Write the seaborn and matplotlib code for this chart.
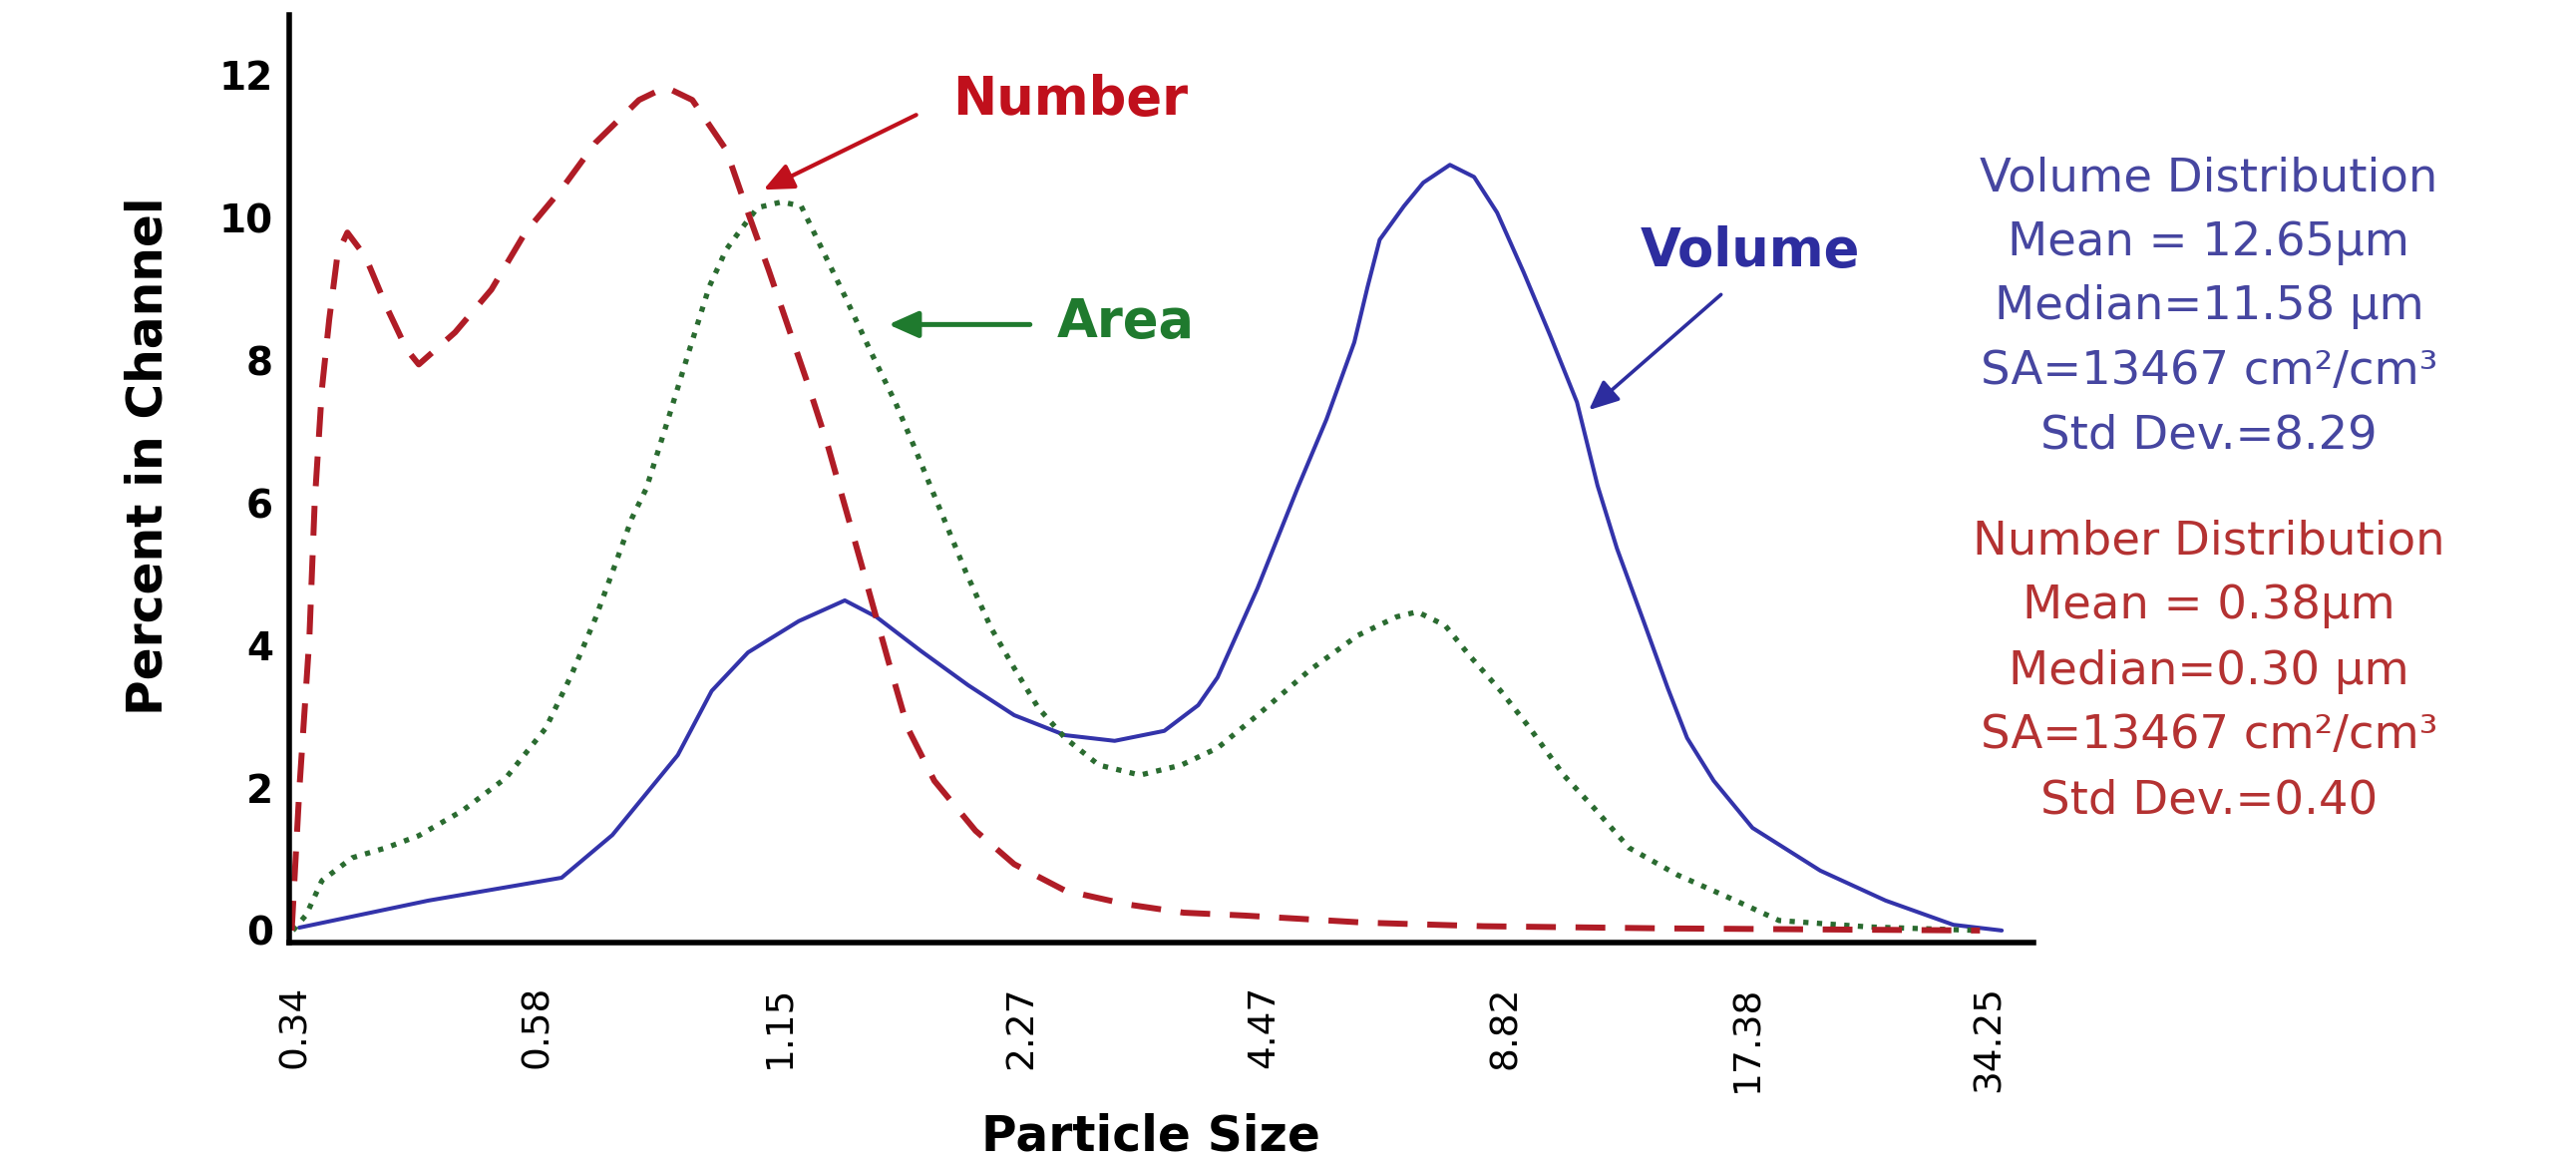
import pandas as pd
import matplotlib.pyplot as plt
import seaborn as sns

# channel index on x, the tick labels give the particle size of each channel
channel_labels = ["0.34", "0.58", "1.15", "2.27", "4.47", "8.82", "17.38", "34.25"]
percent_ticks = [0, 2, 4, 6, 8, 10, 12]

number_x = [-0.015, 0.017, 0.058, 0.08, 0.11, 0.14, 0.175, 0.215, 0.29, 0.375,
            0.46, 0.51, 0.66, 0.81, 0.95, 1.10, 1.24, 1.42, 1.53, 1.64,
            1.78, 1.87, 1.955, 2.04, 2.12, 2.2, 2.34, 2.45, 2.53, 2.64,
            2.81, 2.97, 3.18, 3.43, 3.67, 3.92, 4.42, 4.91, 5.65, 6.96]
number_y = [0.0, 2.0, 4.1, 6.0, 7.6, 8.57, 9.5, 9.79, 9.45, 8.76,
            8.15, 7.94, 8.39, 8.99, 9.79, 10.4, 11.05, 11.65, 11.83, 11.65,
            10.95, 10.07, 9.27, 8.43, 7.64, 6.8, 5.12, 3.78, 2.84, 2.1,
            1.4, 0.93, 0.56, 0.37, 0.25, 0.21, 0.11, 0.06, 0.03, 0.0]

area_x = [-0.01, 0.045, 0.11, 0.235, 0.375, 0.51, 0.69, 0.87, 1.035, 1.14,
          1.24, 1.32, 1.39, 1.45, 1.54, 1.625, 1.71, 1.78, 1.84, 1.91,
          2.01, 2.09, 2.17, 2.27, 2.38, 2.48, 2.56, 2.64, 2.77, 2.875,
          2.97, 3.07, 3.18, 3.32, 3.49, 3.66, 3.81, 3.975, 4.19, 4.39,
          4.55, 4.635, 4.75, 4.85, 4.98, 5.1, 5.24, 5.365, 5.51, 5.71,
          5.95, 6.13, 6.5, 6.96]
area_y = [0.0, 0.22, 0.7, 1.02, 1.16, 1.33, 1.68, 2.14, 2.84, 3.58,
          4.38, 5.12, 5.78, 6.2, 7.17, 8.11, 9.03, 9.55, 9.83, 10.14,
          10.22, 10.16, 9.6, 8.9, 8.1, 7.4, 6.76, 6.1, 5.03, 4.24,
          3.68, 3.12, 2.7, 2.32, 2.18, 2.32, 2.56, 3.02, 3.65, 4.14,
          4.4, 4.47, 4.28, 3.86, 3.36, 2.84, 2.18, 1.72, 1.16, 0.78,
          0.42, 0.14, 0.05, 0.0]

volume_x = [0.016, 0.55, 1.10, 1.31, 1.58, 1.72, 1.87, 2.08, 2.27, 2.40,
            2.585, 2.78, 2.97, 3.18, 3.385, 3.59, 3.73, 3.81, 3.975, 4.14,
            4.26, 4.375, 4.43, 4.48, 4.58, 4.66, 4.77, 4.87, 4.965, 5.075,
            5.185, 5.295, 5.38, 5.46, 5.57, 5.67, 5.75, 5.86, 6.02, 6.30,
            6.57, 6.85, 7.05]
volume_y = [0.04, 0.42, 0.74, 1.34, 2.46, 3.36, 3.9, 4.34, 4.63, 4.4,
            3.92, 3.44, 3.02, 2.74, 2.66, 2.8, 3.16, 3.55, 4.8, 6.2,
            7.17, 8.25, 9.03, 9.69, 10.16, 10.49, 10.74, 10.57, 10.07, 9.23,
            8.34, 7.41, 6.24, 5.36, 4.34, 3.4, 2.7, 2.1, 1.44, 0.84,
            0.42, 0.08, 0.0]

volume_stats = ["Volume Distribution", "Mean = 12.65µm", "Median=11.58 µm",
                "SA=13467 cm²/cm³", "Std Dev.=8.29"]
number_stats = ["Number Distribution", "Mean = 0.38µm", "Median=0.30 µm",
                "SA=13467 cm²/cm³", "Std Dev.=0.40"]

red = "#b01c26"
green = "#2a6b30"
blue = "#3333aa"

sns.set_style("white")
plt.rcParams["font.family"] = ["DejaVu Sans"]
plt.rcParams["text.color"] = "black"
plt.rcParams["axes.labelcolor"] = "black"
plt.rcParams["xtick.color"] = "black"
plt.rcParams["ytick.color"] = "black"

fig = plt.figure(figsize=(25.83, 11.66), dpi=100)
ax = fig.add_axes([0.1123, 0.1895, 0.677, 0.7975])

number_df = pd.DataFrame({"channel": number_x, "percent": number_y})
area_df = pd.DataFrame({"channel": area_x, "percent": area_y})
volume_df = pd.DataFrame({"channel": volume_x, "percent": volume_y})

sns.lineplot(data=volume_df, x="channel", y="percent", ax=ax, color=blue,
             lw=2.9, sort=False, estimator=None)
sns.lineplot(data=area_df, x="channel", y="percent", ax=ax, color=green,
             lw=3.8, linestyle=(0, (1, 1.6)), sort=False, estimator=None)
sns.lineplot(data=number_df, x="channel", y="percent", ax=ax, color=red,
             lw=4.3, linestyle=(0, (5, 3.3)), sort=False, estimator=None)

ax.set_xlim(-0.025, 7.18)
ax.set_ylim(-0.17, 12.84)
sns.despine(ax=ax)
for side in ["left", "bottom"]:
    ax.spines[side].set_linewidth(4)
    ax.spines[side].set_color("black")

ax.set_xticks(range(len(channel_labels)))
ax.set_xticklabels(channel_labels, rotation=90, fontsize=27)
ax.set_yticks(percent_ticks)
ax.set_yticklabels([str(t) for t in percent_ticks], fontsize=28, fontweight="bold")
ax.tick_params(axis="x", length=0, pad=31)
ax.tick_params(axis="y", length=0, pad=11.5)

ax.set_xlabel("Particle Size", fontsize=35, fontweight="bold")
ax.xaxis.set_label_coords(0.494, -0.183)
ax.set_ylabel("Percent in Channel", fontsize=35, fontweight="bold")
ax.yaxis.set_label_coords(-0.067, 0.525)

# labels with arrows
ax.annotate("", xy=(1.934, 10.39), xytext=(2.565, 11.44),
            arrowprops=dict(arrowstyle="-|>,head_length=0.45,head_width=0.2",
                            color="#c0101c", lw=3, mutation_scale=40,
                            shrinkA=0, shrinkB=0))
ax.text(3.2, 11.65, "Number", color="#c0101c", fontsize=38, fontweight="bold",
        ha="center", va="center")

ax.annotate("", xy=(2.45, 8.5), xytext=(3.035, 8.5),
            arrowprops=dict(arrowstyle="-|>,head_length=0.45,head_width=0.2",
                            color="#1f7a2e", lw=3.6, mutation_scale=40,
                            shrinkA=0, shrinkB=0))
ax.text(3.43, 8.53, "Area", color="#1f7a2e", fontsize=38, fontweight="bold",
        ha="center", va="center")

ax.annotate("", xy=(5.344, 7.3), xytext=(5.89, 8.92),
            arrowprops=dict(arrowstyle="-|>,head_length=0.45,head_width=0.2",
                            color="#2d2d9f", lw=2.6, mutation_scale=40,
                            shrinkA=0, shrinkB=0))
ax.text(6.01, 9.52, "Volume", color="#2d2d9f", fontsize=38, fontweight="bold",
        ha="center", va="center")

# statistics blocks on the right
for i, line in enumerate(volume_stats):
    fig.text(0.8575, 1 - (179 + 64.5 * i) / 1166, line, color="#4646a0",
             fontsize=33.5, ha="center", va="center")
for i, line in enumerate(number_stats):
    fig.text(0.8575, 1 - (543 + 65 * i) / 1166, line, color="#b43232",
             fontsize=33.5, ha="center", va="center")

fig.savefig("out.png", dpi=100, facecolor="white")
